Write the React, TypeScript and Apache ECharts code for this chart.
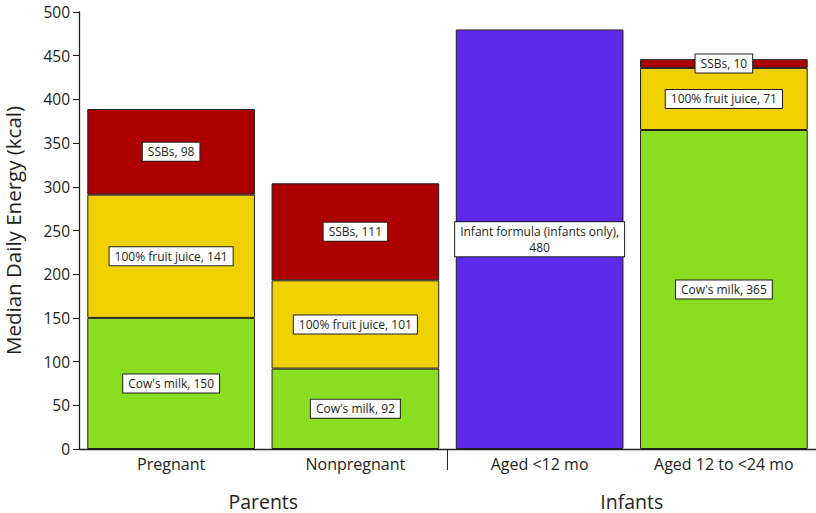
import React, { useEffect, useRef } from "react";
import * as echarts from "echarts";

const categories = ["Pregnant", "Nonpregnant", "Aged <12 mo", "Aged 12 to <24 mo"];
const groups = ["Parents", "Infants"];
const infantFormula = [null, null, 480, null];
const cowsMilk = [150, 92, null, 365];
const fruitJuice = [141, 101, null, 71];
const ssbs = [98, 111, null, 10];
const yTicks = { min: 0, max: 500, interval: 50 };

const FONT = "'Open Sans', 'Noto Sans', sans-serif";
const INK = "#231F20";

export default function App() {
  const ref = useRef<HTMLDivElement>(null);
  useEffect(() => {
    if (!ref.current) return;
    const chart = echarts.init(ref.current, null, { renderer: "svg" });
    const label = (fmt: string) => ({
      show: true,
      position: "inside",
      formatter: fmt,
      color: INK,
      fontFamily: FONT,
      fontSize: 12,
      lineHeight: 16,
      backgroundColor: "#fff",
      borderColor: INK,
      borderWidth: 1,
      padding: [1, 5, 1, 5],
    });
    const bar = (name: string, data: (number | null)[], color: string, fmt = "{a}, {c}") => ({
      name,
      type: "bar",
      stack: "total",
      xAxisIndex: 0,
      data,
      barCategoryGap: "9%",
      itemStyle: { color, borderColor: INK, borderWidth: 1 },
      label: label(fmt),
    });
    chart.setOption({
      animation: false,
      textStyle: { fontFamily: FONT },
      grid: { left: 79, right: 0, top: 12, bottom: 64, containLabel: false, outerBoundsMode: "none" },
      xAxis: [
        {
          type: "category",
          data: categories,
          position: "bottom",
          axisLine: { lineStyle: { color: INK, width: 1.3 } },
          axisTick: { length: 6, lineStyle: { color: INK }, interval: (i: number) => i !== 0 },
          axisLabel: { color: INK, fontSize: 16, fontFamily: FONT, margin: 7 },
        },
        {
          type: "category",
          data: groups,
          position: "bottom",
          axisLine: { show: false },
          axisTick: { show: false },
          axisLabel: { color: INK, fontSize: 19.5, fontFamily: FONT, margin: 42 },
        },
        {
          type: "category",
          data: [""],
          position: "bottom",
          axisLine: { show: false },
          axisTick: { show: true, alignWithLabel: true, length: 21, lineStyle: { color: INK } },
          axisLabel: { show: false },
        },
      ],
      yAxis: {
        type: "value",
        min: yTicks.min,
        max: yTicks.max,
        interval: yTicks.interval,
        name: "Median Daily Energy (kcal)",
        nameLocation: "middle",
        nameGap: 56,
        nameTextStyle: { color: INK, fontSize: 20.5, fontFamily: FONT },
        splitLine: { show: false },
        axisLine: { show: true, lineStyle: { color: INK, width: 1.3 } },
        axisTick: { show: true, length: 6, lineStyle: { color: INK } },
        axisLabel: { color: INK, fontSize: 15.5, fontFamily: FONT, margin: 9 },
      },
      series: [
        bar("Infant formula (infants only)", infantFormula, "#5E29E8", "{a},\n{c}"),
        bar("Cow's milk", cowsMilk, "#8ADE22"),
        bar("100% fruit juice", fruitJuice, "#EFD100"),
        bar("SSBs", ssbs, "#AC0000"),
      ],
    });
    return () => chart.dispose();
  }, []);
  return (
    <div
      ref={ref}
      style={{ position: "absolute", left: 0, top: 0, width: 816, height: 513, background: "#fff" }}
    />
  );
}
